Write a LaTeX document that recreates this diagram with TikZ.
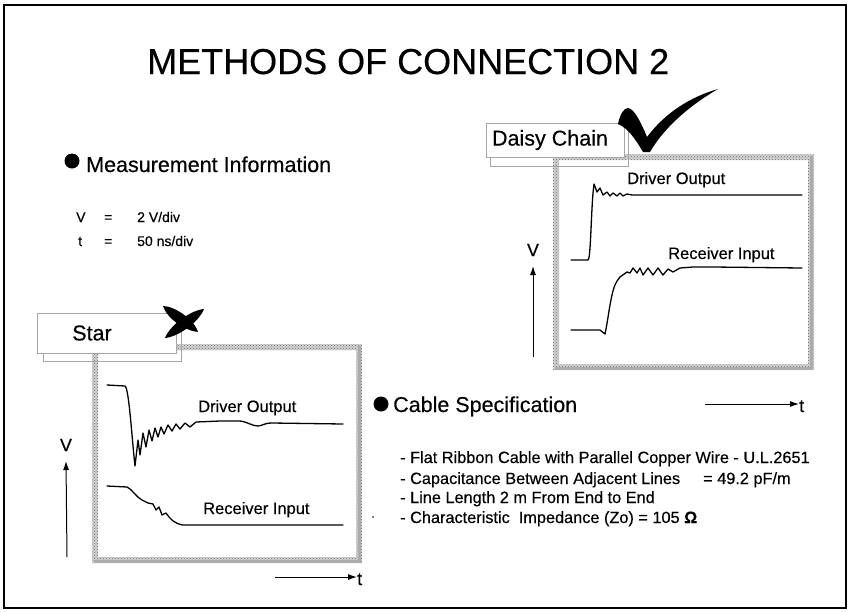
\documentclass[tikz,border=0pt]{standalone}
\usepackage{fontspec}
\setmainfont{Liberation Sans}[FakeBold=0.35]
\usetikzlibrary{arrows.meta,patterns}

\tikzset{
  titletext/.style={font=\fontsize{36}{40}\selectfont, anchor=base west, inner sep=0pt},
  headtext/.style={font=\fontsize{21.5}{24}\selectfont, anchor=base west, inner sep=0pt},
  curvetext/.style={font=\fontsize{16.5}{19}\selectfont, anchor=base west, inner sep=0pt},
  bodytext/.style={font=\fontsize{16.3}{19}\selectfont, anchor=base west, inner sep=0pt},
  infotext/.style={font=\fontsize{14}{17}\selectfont, anchor=base west, inner sep=0pt},
  axistext/.style={font=\fontsize{18}{20}\selectfont, inner sep=0pt},
  bulletdot/.style={circle, fill=black, inner sep=0pt, minimum size=15pt},
  framebase/.style={fill=gray!35, even odd rule},
  framedots/.style={pattern=crosshatch dots, pattern color=gray!85!black, even odd rule},
  scopeshade/.style={draw=gray!65, line width=3pt},
  tabbox/.style={draw=gray!70, line width=0.7pt, fill=white},
  tabshadow/.style={draw=gray!70, line width=0.7pt},
  trace/.style={line width=1.3pt, line join=round, line cap=round},
  axisarrow/.style={line width=1pt, -{Latex[length=9pt,width=6pt]}},
  inkmark/.style={fill=black}
}

\begin{document}
\begin{tikzpicture}[x=1pt, y=-1pt]
\useasboundingbox (0,0) rectangle (851,611);

% page border
\draw[line width=1.5pt] (4,5) rectangle (846,608);

% title
\node[titletext] (title) at (147,74) {METHODS OF CONNECTION 2};

% measurement information
\node[bulletdot] (b1) at (72,161) {};
\node[headtext] (meas) at (86,172) {Measurement Information};
\node[infotext] (mv) at (76,222) {V};
\node[infotext] (me1) at (104,222) {=};
\node[infotext] (mvv) at (137,222) {2 V/div};
\node[infotext] (mt) at (78,246) {t};
\node[infotext] (me2) at (104,246) {=};
\node[infotext] (mtv) at (137,246) {50 ns/div};

% ---------- daisy chain oscilloscope panel ----------
\fill[framebase] (553,154) rectangle (814,370) (559,160) rectangle (808,364);
\fill[framedots] (553,154) rectangle (814,370) (559,160) rectangle (808,364);
\draw[scopeshade] (811,156) -- (811,368) -- (555,368);
\draw[tabshadow] (490,157) -- (490,166) -- (628,166) -- (628,127);
\draw[tabbox] (486,123) rectangle (624,157);
\node[headtext, anchor=center] (daisy) at (550,140) {Daisy Chain};

% check mark
\fill[inkmark] (618,124) .. controls (620,114) and (624,108) .. (628,108)
  .. controls (635,109) and (642,125) .. (647,137)
  .. controls (665,113) and (690,97) .. (718,89)
  .. controls (692,104) and (665,126) .. (650,152)
  -- (643,152) .. controls (636,140) and (628,128) .. (618,124) -- cycle;

\node[curvetext] (ddo) at (627,184) {Driver Output};
\draw[trace] (571,260) -- (588,260) .. controls (591,259) and (591,205) .. (594,184)
  -- (597,192) -- (600,188) -- (603,195) -- (607,192) -- (610,196) -- (613,193)
  -- (617,196) -- (620,193) -- (623,196) -- (627,194) -- (632,195) -- (802,195);

\node[curvetext] (dri) at (668,259) {Receiver Input};
\draw[trace] (571,330) -- (600,330) -- (605,334) .. controls (609,315) and (611,290) .. (617,281)
  -- (620,277) -- (627,272) -- (630,273) -- (633,268) -- (637,273) -- (640,268)
  -- (643,275) -- (648,268) -- (653,275) -- (658,268) -- (663,275) -- (668,269)
  -- (673,272) -- (680,268) -- (693,267) -- (713,267) -- (802,268);

\node[axistext] (dv) at (533,250) {V};
\coordinate (dvbase) at (533,357);
\draw[axisarrow] (dvbase) -- (dv.south |- 0,266);

\coordinate (dtbase) at (705,404);
\node[axistext, anchor=base west] (dt) at (799,412) {t};
\draw[axisarrow] (dtbase) -- (dt.west |- 0,404);

% ---------- star oscilloscope panel ----------
\fill[framebase] (92,344) rectangle (362,563) (98,350) rectangle (356,557);
\fill[framedots] (92,344) rectangle (362,563) (98,350) rectangle (356,557);
\draw[scopeshade] (359,346) -- (359,561) -- (94,561);
\draw[tabshadow] (43,353) -- (43,361) -- (181,361) -- (181,318);
\draw[tabbox] (37,313) rectangle (176,353);
\node[headtext, anchor=center] (star) at (92,333) {Star};

% cross mark
\fill[inkmark] (163,306) .. controls (167,319) and (186,331) .. (198,332)
  .. controls (194,319) and (174,306) .. cycle;
\fill[inkmark] (165,338) .. controls (178,337) and (199,322) .. (204,309)
  .. controls (191,310) and (170,325) .. cycle;

\node[curvetext] (sdo) at (198,412) {Driver Output};
\draw[trace] (107,385) -- (125,386) .. controls (129,388) and (132,440) .. (135,466)
  -- (138,440) -- (140,455) -- (143,433) -- (146,447) -- (149,430) -- (152,441)
  -- (155,428) -- (158,437) -- (161,427) -- (164,434) -- (168,425) -- (172,431)
  -- (176,424) -- (180,429) -- (185,423) -- (190,427) -- (196,422)
  -- (220,421) -- (240,421) .. controls (248,422) and (252,426) .. (258,426)
  .. controls (262,426) and (264,423) .. (272,423) -- (343,424);

\node[curvetext] (sri) at (203,514) {Receiver Input};
\draw[trace] (107,486) -- (127,487) .. controls (132,489) and (136,497) .. (142,500)
  -- (148,503) -- (153,504) -- (156,510) -- (159,507) -- (162,515) -- (166,513)
  .. controls (170,519) and (175,524) .. (183,525) -- (343,525);

\node[axistext] (sv) at (66,445) {V};
\coordinate (svbase) at (67,557);
\draw[axisarrow] (svbase) -- (sv.south |- 0,461);

\coordinate (stbase) at (275,577);
\node[axistext, anchor=base west] (st) at (357,585) {t};
\draw[axisarrow] (stbase) -- (st.west |- 0,577);

% ---------- cable specification ----------
\node[bulletdot] (b2) at (381,404) {};
\node[headtext] (cable) at (393,412) {Cable Specification};
\node[bodytext] (c1) at (400,463) {- Flat Ribbon Cable with Parallel Copper Wire - U.L.2651};
\node[bodytext] (c2) at (400,484) {- Capacitance Between Adjacent Lines};
\node[bodytext] (c2v) at (703,484) {= 49.2 pF/m};
\node[bodytext] (c3) at (400,503) {- Line Length 2 m From End to End};
\node[bodytext] (c4) at (400,523) {- Characteristic\ \ Impedance (Zo) = 105 \textbf{Ω}};
\fill (373,517) circle (0.9pt);

\end{tikzpicture}
\end{document}
